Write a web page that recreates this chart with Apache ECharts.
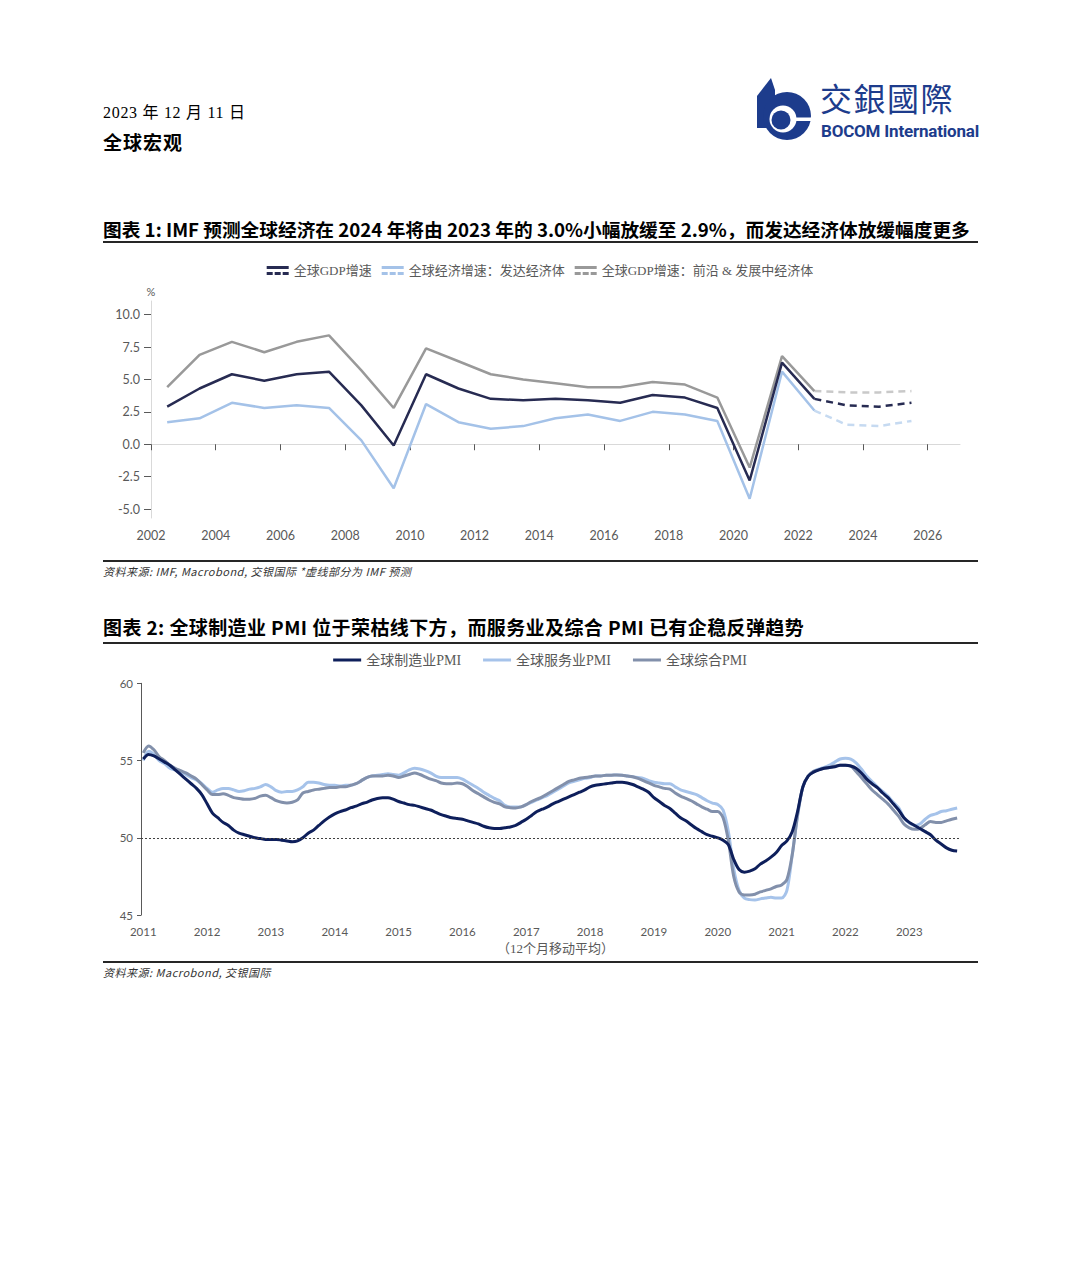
<!DOCTYPE html>
<html>
<head>
<meta charset="utf-8">
<script src="https://cdn.jsdelivr.net/npm/echarts@6/dist/echarts.min.js"></script>
<style>
  html, body { margin: 0; padding: 0; background: #fff; }
  body { width: 1080px; height: 1261px; position: relative; overflow: hidden; font-family: "Noto Sans CJK SC", sans-serif; color: #000; }
  .abs { position: absolute; white-space: nowrap; }
  .date { left: 103px; top: 104px; font-size: 16px; line-height: 18px; letter-spacing: 0.7px; font-family: "Liberation Serif", "Noto Sans CJK SC", serif; }
  .sect { left: 103px; top: 131px; font-size: 19px; line-height: 22px; font-weight: 700; letter-spacing: 1px; }
  .title { left: 103px; font-size: 19px; line-height: 20px; font-weight: 700; }
  .rule { left: 103px; width: 875px; height: 2px; background: #262626; }
  .src { left: 103px; font-size: 11px; line-height: 14px; font-style: italic; color: #333; letter-spacing: 0.5px; }
  .logo-cn { left: 820px; top: 81px; font-size: 32px; line-height: 32px; color: #1d3c8c; font-family: "Noto Sans CJK TC", sans-serif; letter-spacing: 1.5px; }
  .logo-en { left: 821px; top: 121.5px; font-size: 17px; line-height: 18px; color: #1d3c8c; font-family: Roboto, sans-serif; font-weight: 700; letter-spacing: -0.2px; }
  #c1 { position: absolute; left: 0; top: 250px; width: 1080px; height: 305px; }
  #c2 { position: absolute; left: 0; top: 645px; width: 1080px; height: 315px; }
</style>
</head>
<body>
<div class="abs date">2023 年 12 月 11 日</div>
<div class="abs sect">全球宏观</div>

<svg class="abs" style="left:0;top:0" width="1080" height="160">
  <path d="M771,78 L757,96 L757,128 L775,128 L775,90 Z" fill="#1d3c8c"/>
  <circle cx="787" cy="116" r="24" fill="#1d3c8c"/>
  <circle cx="783" cy="119" r="13.5" fill="#fff"/>
  <rect x="783" y="117.5" width="32" height="3.5" fill="#fff"/>
  <circle cx="781" cy="120" r="9.5" fill="#1d3c8c"/>
</svg>
<div class="abs logo-cn">交銀國際</div>
<div class="abs logo-en">BOCOM International</div>

<div class="abs title" style="top:219px;font-size:18.7px">图表 1: IMF 预测全球经济在 2024 年将由 2023 年的 3.0%小幅放缓至 2.9%，而发达经济体放缓幅度更多</div>
<div class="abs rule" style="top:241px"></div>
<div id="c1"></div>
<div class="abs rule" style="top:560px"></div>
<div class="abs src" style="top:564px">资料来源: IMF, Macrobond, 交银国际 *虚线部分为 IMF 预测</div>

<div class="abs title" style="top:617px;letter-spacing:0.4px">图表 2: 全球制造业 PMI 位于荣枯线下方，而服务业及综合 PMI 已有企稳反弹趋势</div>
<div class="abs rule" style="top:642px"></div>
<div id="c2"></div>
<div class="abs rule" style="top:961px"></div>
<div class="abs src" style="top:965px">资料来源: Macrobond, 交银国际</div>

<script>
// ---- 图表1: IMF 年度增速 ----
const years = [2002, 2003, 2004, 2005, 2006, 2007, 2008, 2009, 2010, 2011, 2012, 2013,
  2014, 2015, 2016, 2017, 2018, 2019, 2020, 2021, 2022, 2023, 2024, 2025]
const lastActualYear = 2022
const worldGdp = [2.9, 4.3, 5.4, 4.9, 5.4, 5.6, 3.0, -0.1, 5.4, 4.3, 3.5, 3.4,
  3.5, 3.4, 3.2, 3.8, 3.6, 2.8, -2.8, 6.3, 3.5, 3.0, 2.9, 3.2]
const advancedGdp = [1.7, 2.0, 3.2, 2.8, 3.0, 2.8, 0.3, -3.4, 3.1, 1.7, 1.2, 1.4,
  2.0, 2.3, 1.8, 2.5, 2.3, 1.8, -4.2, 5.6, 2.6, 1.5, 1.4, 1.8]
const emdeGdp = [4.4, 6.9, 7.9, 7.1, 7.9, 8.4, 5.7, 2.8, 7.4, 6.4, 5.4, 5.0,
  4.7, 4.4, 4.4, 4.8, 4.6, 3.6, -1.8, 6.8, 4.1, 4.0, 4.0, 4.1]
const gdpYTicks = [-5, -2.5, 0, 2.5, 5, 7.5, 10]
const gdpXTicks = [2002, 2004, 2006, 2008, 2010, 2012, 2014, 2016, 2018, 2020, 2022, 2024, 2026]

// ---- 图表2: PMI 12个月移动平均 (2011-01 ~ 2023-10) ----
const pmiStartYear = 2011
const mfgPmi = [
  55.1, 55.4, 55.3, 55.1, 54.9, 54.7, 54.4, 54.1, 53.8, 53.5, 53.2, 52.8,
  52.2, 51.6, 51.3, 51.0, 50.8, 50.5, 50.3, 50.2, 50.1, 50.0, 49.95, 49.9,
  49.9, 49.9, 49.85, 49.8, 49.75, 49.8, 50.0, 50.3, 50.5, 50.8, 51.1, 51.35,
  51.55, 51.7, 51.8, 51.95, 52.05, 52.2, 52.3, 52.45, 52.55, 52.6, 52.6, 52.5,
  52.35, 52.25, 52.15, 52.1, 52.0, 51.9, 51.8, 51.65, 51.5, 51.4, 51.3, 51.25,
  51.2, 51.1, 51.0, 50.9, 50.75, 50.65, 50.6, 50.6, 50.65, 50.7, 50.8, 51.0,
  51.2, 51.45, 51.7, 51.85, 52.0, 52.2, 52.35, 52.5, 52.65, 52.8, 52.95, 53.1,
  53.3, 53.4, 53.45, 53.5, 53.55, 53.6, 53.6, 53.55, 53.45, 53.3, 53.15, 52.95,
  52.6, 52.35, 52.1, 51.9, 51.6, 51.3, 51.1, 50.85, 50.6, 50.4, 50.2, 50.1,
  50.0, 49.85, 49.55, 48.6, 47.95, 47.78, 47.85, 48.0, 48.3, 48.5, 48.75, 49.05,
  49.5, 49.8, 50.4, 51.7, 53.3, 54.0, 54.25, 54.4, 54.5, 54.55, 54.6, 54.7,
  54.7, 54.65, 54.5, 54.2, 53.8, 53.5, 53.25, 52.9, 52.6, 52.2, 51.8, 51.3,
  51.0, 50.8, 50.6, 50.4, 50.2, 49.85, 49.6, 49.35, 49.2, 49.15
]
const servicesPmi = [
  55.0, 55.6, 55.4, 55.0, 54.8, 54.5, 54.4, 54.3, 54.1, 53.9, 53.75, 53.5,
  53.2, 52.95, 53.1, 53.2, 53.2, 53.1, 53.0, 53.05, 53.15, 53.2, 53.3, 53.45,
  53.3, 53.05, 52.95, 53.0, 53.0, 53.1, 53.3, 53.6, 53.6, 53.55, 53.45, 53.4,
  53.4, 53.35, 53.4, 53.4, 53.5, 53.7, 53.9, 54.0, 54.05, 54.1, 54.15, 54.1,
  54.05, 54.2, 54.4, 54.5, 54.45, 54.35, 54.2, 54.0, 53.9, 53.9, 53.9, 53.9,
  53.8, 53.6, 53.4, 53.2, 52.95, 52.75, 52.55, 52.4, 52.1, 52.0, 52.0, 52.0,
  52.15, 52.3, 52.45, 52.6, 52.75, 52.95, 53.15, 53.35, 53.55, 53.65, 53.75, 53.85,
  53.9, 54.0, 54.0, 54.05, 54.05, 54.07, 54.05, 54.0, 53.95, 53.9, 53.85, 53.7,
  53.6, 53.55, 53.5, 53.5, 53.3, 53.1, 53.0, 52.9, 52.8, 52.6, 52.4, 52.25,
  52.15, 51.8, 50.4, 48.0, 46.6, 46.1, 46.0, 45.98, 46.05, 46.1, 46.15, 46.1,
  46.1, 46.6, 48.9, 51.4, 53.3, 54.0, 54.3, 54.45, 54.55, 54.7, 54.9, 55.1,
  55.15, 55.1, 54.85, 54.45, 54.0, 53.65, 53.3, 53.0, 52.7, 52.3, 51.95, 51.3,
  50.95, 50.8, 50.9, 51.2, 51.45, 51.55, 51.7, 51.75, 51.85, 51.93
]
const compositePmi = [
  55.5, 55.95, 55.7, 55.25, 55.0, 54.7, 54.5, 54.35, 54.2, 54.0, 53.8, 53.45,
  53.1, 52.8, 52.8, 52.85, 52.75, 52.6, 52.55, 52.5, 52.5, 52.55, 52.7, 52.75,
  52.6, 52.4, 52.3, 52.25, 52.3, 52.45, 52.9, 53.0, 53.1, 53.15, 53.2, 53.25,
  53.25, 53.3, 53.3, 53.4, 53.5, 53.7, 53.9, 54.0, 54.0, 54.0, 54.05, 54.0,
  53.9, 54.0, 54.1, 54.2, 54.1, 53.95, 53.8, 53.7, 53.55, 53.5, 53.5, 53.55,
  53.5, 53.3, 53.05, 52.85, 52.65, 52.45, 52.3, 52.2, 52.0, 51.95, 51.93, 52.0,
  52.15, 52.35, 52.5, 52.65, 52.85, 53.05, 53.25, 53.45, 53.65, 53.75, 53.85, 53.9,
  53.95, 54.0, 54.0, 54.05, 54.05, 54.07, 54.05, 54.0, 53.95, 53.85, 53.7, 53.55,
  53.4, 53.3, 53.2, 53.15, 52.9, 52.7, 52.55, 52.4, 52.2, 52.0, 51.85, 51.7,
  51.7, 51.3, 49.8, 47.5, 46.5, 46.3, 46.3, 46.35, 46.5, 46.6, 46.7, 46.85,
  46.95, 47.3, 48.9, 51.5, 53.3, 54.0, 54.3, 54.4, 54.5, 54.55, 54.65, 54.7,
  54.7, 54.65, 54.3, 53.9, 53.5, 53.1, 52.8, 52.5, 52.2, 51.8, 51.4, 50.9,
  50.65, 50.55, 50.6, 50.85, 51.05, 51.0, 51.0, 51.1, 51.2, 51.28
]
const pmiXTicks = [2011, 2012, 2013, 2014, 2015, 2016, 2017, 2018, 2019, 2020, 2021, 2022, 2023]

const cjkSerif = '"Liberation Serif", "Noto Sans CJK SC", serif'
const axisFont = 'Lato, "Open Sans", sans-serif'
// 上实线下虚线的图例图标
const solidDashIcon = 'path://M0,0H22V3H0Z M0,6H6V9H0Z M8,6H14V9H8Z M16,6H22V9H16Z'

// 年度数据画在年中位置
function yearPoints(values, from, to) {
  return years
    .map((y, i) => [y + 0.5, values[i], y])
    .filter(p => p[2] >= from && p[2] <= to)
    .map(p => [p[0], p[1]])
}

function gdpSeries(name, values, color, dashColor) {
  return [
    {
      name, type: 'line', symbol: 'none', z: 3,
      itemStyle: { color },
      lineStyle: { color, width: 2.5 },
      data: yearPoints(values, years[0], lastActualYear)
    },
    {
      name, type: 'line', symbol: 'none', z: 2,
      itemStyle: { color },
      lineStyle: { color: dashColor, width: 2.5, type: [7, 5] },
      data: yearPoints(values, lastActualYear, years[years.length - 1])
    }
  ]
}

const chart1 = echarts.init(document.getElementById('c1'), null, { renderer: 'svg' })
chart1.setOption({
  animation: false,
  legend: {
    top: 9, left: 'center',
    itemWidth: 22, itemHeight: 9, itemGap: 10,
    itemStyle: { borderWidth: 0 },
    textStyle: { fontSize: 13, color: '#595959', fontFamily: cjkSerif },
    data: [
      { name: '全球GDP增速', icon: solidDashIcon },
      { name: '全球经济增速：发达经济体', icon: solidDashIcon },
      { name: '全球GDP增速：前沿 & 发展中经济体', icon: solidDashIcon }
    ]
  },
  grid: { left: 151, right: 120, top: 51, height: 217 },
  xAxis: {
    type: 'value', min: 2002, max: 2027,
    axisLine: { lineStyle: { color: '#d9d9d9', width: 1 } },
    axisTick: { customValues: gdpXTicks, length: 6, lineStyle: { color: '#595959' } },
    axisLabel: {
      customValues: gdpXTicks, margin: 11,
      color: '#595959', fontSize: 12.5, fontFamily: axisFont,
      formatter: v => String(v)
    },
    splitLine: { show: false }
  },
  yAxis: {
    type: 'value', min: -5.69, max: 11.05,
    name: '%', nameLocation: 'end', nameGap: 4,
    nameTextStyle: { color: '#595959', fontSize: 11, fontFamily: axisFont },
    axisLine: { show: true, lineStyle: { color: '#d9d9d9', width: 1 } },
    axisTick: { show: true, customValues: gdpYTicks, length: 7, lineStyle: { color: '#595959' } },
    axisLabel: {
      customValues: gdpYTicks, margin: 11,
      color: '#595959', fontSize: 12.5, fontFamily: axisFont,
      formatter: v => v.toFixed(1)
    },
    splitLine: { show: false }
  },
  series: [
    ...gdpSeries('全球GDP增速：前沿 & 发展中经济体', emdeGdp, '#999999', '#c9c9c9'),
    ...gdpSeries('全球经济增速：发达经济体', advancedGdp, '#a4c2e8', '#c6daf1'),
    ...gdpSeries('全球GDP增速', worldGdp, '#272b52', '#272b52')
  ]
})

// ---- 图表2 ----
const pmiX = mfgPmi.map((_, i) => pmiStartYear + i / 12)
const toPoints = arr => arr.map((v, i) => [pmiX[i], v])

const chart2 = echarts.init(document.getElementById('c2'), null, { renderer: 'svg' })
chart2.setOption({
  animation: false,
  legend: {
    top: 3, left: 'center',
    itemWidth: 28, itemHeight: 3, itemGap: 22,
    icon: 'rect',
    itemStyle: { borderWidth: 0 },
    textStyle: { fontSize: 14, color: '#595959', fontFamily: cjkSerif },
    data: ['全球制造业PMI', '全球服务业PMI', '全球综合PMI']
  },
  grid: { left: 141, right: 120, top: 38.3, height: 233.7 },
  xAxis: {
    type: 'value', min: 2010.964, max: 2023.795,
    name: '（12个月移动平均）', nameLocation: 'middle', nameGap: 25,
    nameTextStyle: { color: '#595959', fontSize: 13, fontFamily: cjkSerif, padding: [0, 0, 0, 10] },
    axisLine: { show: false },
    axisTick: { show: false },
    axisLabel: {
      customValues: pmiXTicks, margin: 10,
      color: '#595959', fontSize: 11.5, fontFamily: axisFont,
      formatter: v => String(v)
    },
    splitLine: { show: false }
  },
  yAxis: {
    type: 'value', min: 45, max: 60, interval: 5,
    axisLine: { show: true, lineStyle: { color: '#595959', width: 1 } },
    axisTick: { show: true, length: 4, lineStyle: { color: '#595959' } },
    axisLabel: { margin: 8, color: '#595959', fontSize: 11.5, fontFamily: axisFont },
    splitLine: { show: false }
  },
  series: [
    {
      name: '全球服务业PMI', type: 'line', symbol: 'none', smooth: 0.3,
      itemStyle: { color: '#a6c3ea' }, lineStyle: { color: '#a6c3ea', width: 3 },
      data: toPoints(servicesPmi)
    },
    {
      name: '全球综合PMI', type: 'line', symbol: 'none', smooth: 0.3,
      itemStyle: { color: '#8290ab' }, lineStyle: { color: '#8290ab', width: 3 },
      data: toPoints(compositePmi)
    },
    {
      name: '全球制造业PMI', type: 'line', symbol: 'none', smooth: 0.3,
      itemStyle: { color: '#0e1f5b' }, lineStyle: { color: '#0e1f5b', width: 3 },
      data: toPoints(mfgPmi),
      markLine: {
        silent: true, symbol: 'none', label: { show: false },
        lineStyle: { color: '#404040', width: 1, type: [2, 2] },
        data: [{ yAxis: 50 }]
      }
    }
  ]
})
</script>
</body>
</html>
